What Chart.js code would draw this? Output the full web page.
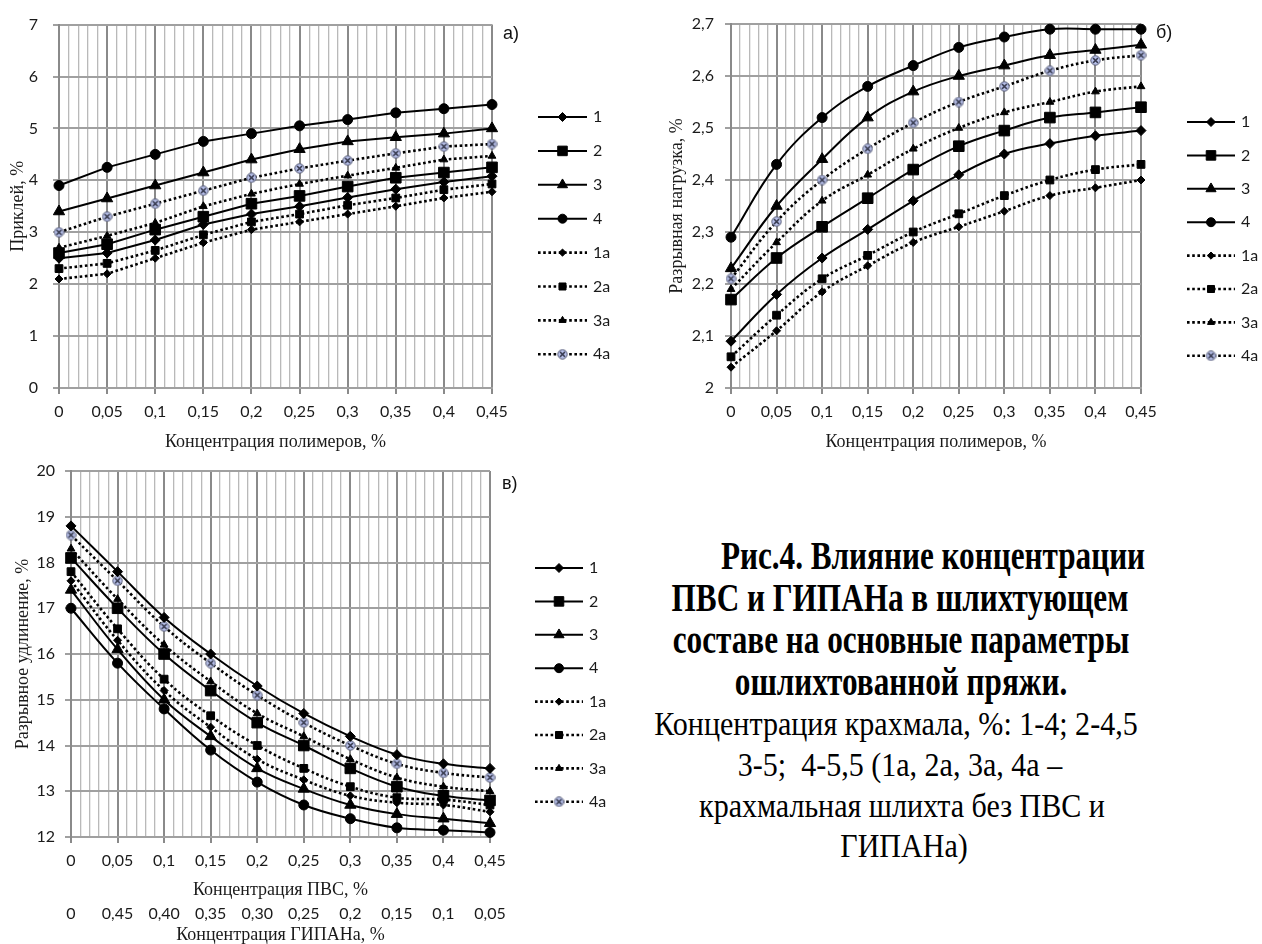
<!DOCTYPE html>
<html lang="ru">
<head>
<meta charset="utf-8">
<title>Рис.4</title>
<script src="https://cdn.jsdelivr.net/npm/chart.js@4.4.1/dist/chart.umd.min.js"></script>
<style>
  html, body { margin: 0; padding: 0; background: #fff; }
  body { position: relative; width: 1262px; height: 944px; overflow: hidden; }
  .box { position: absolute; }
  .panel { position: absolute; font: 18px "Liberation Sans", Arial, sans-serif; color: #111; line-height: 22px; }
  .cap { position: absolute; width: 600px; text-align: center; white-space: nowrap;
         font-family: "Liberation Serif", "Times New Roman", serif; color: #000;
         line-height: 42px; transform-origin: center; }
  .cap.b { font-weight: bold; font-size: 40px; transform: scaleX(0.78); }
  .cap.r { font-size: 33px; transform: scaleX(0.91); }
</style>
</head>
<body>
<div class="box" style="left:0;top:0;width:620px;height:460px"><canvas id="chartA"></canvas></div>
<div class="box" style="left:650px;top:0;width:612px;height:460px"><canvas id="chartB"></canvas></div>
<div class="box" style="left:0;top:450px;width:620px;height:494px"><canvas id="chartC"></canvas></div>

<div class="panel" style="left:503px;top:22px">а)</div>
<div class="panel" style="left:1156px;top:21px">б)</div>
<div class="panel" style="left:502px;top:472px">в)</div>

<div class="cap b" style="left:633px;top:535px">Рис.4. Влияние концентрации</div>
<div class="cap b" style="left:600px;top:577px">ПВС и ГИПАНа в шлихтующем</div>
<div class="cap b" style="left:601px;top:619px">составе на основные параметры</div>
<div class="cap b" style="left:601px;top:661px">ошлихтованной пряжи.</div>
<div class="cap r" style="left:596px;top:703px">Концентрация крахмала, %: 1-4; 2-4,5</div>
<div class="cap r" style="left:600px;top:744px">3-5;&nbsp; 4-5,5 (1а, 2а, 3а, 4а –</div>
<div class="cap r" style="left:602px;top:785px">крахмальная шлихта без ПВС и</div>
<div class="cap r" style="left:604px;top:825px">ГИПАНа)</div>

<script>
// concentration of polymers, % (x values shared by all panels)
const concentration = [0, 0.05, 0.1, 0.15, 0.2, 0.25, 0.3, 0.35, 0.4, 0.45];
const concentrationLabels = ['0', '0,05', '0,1', '0,15', '0,2', '0,25', '0,3', '0,35', '0,4', '0,45'];
const gipanLabels = ['0', '0,45', '0,40', '0,35', '0,30', '0,25', '0,2', '0,15', '0,1', '0,05'];
const seriesNames = ['1', '2', '3', '4', '1а', '2а', '3а', '4а'];

// а) Приклей, %
const sizeAdd1 = [2.5, 2.6, 2.85, 3.15, 3.35, 3.5, 3.67, 3.83, 3.97, 4.08];
const sizeAdd2 = [2.6, 2.77, 3.05, 3.3, 3.55, 3.7, 3.88, 4.05, 4.15, 4.25];
const sizeAdd3 = [3.4, 3.65, 3.9, 4.15, 4.4, 4.6, 4.75, 4.83, 4.9, 5.0];
const sizeAdd4 = [3.9, 4.25, 4.5, 4.75, 4.9, 5.05, 5.17, 5.3, 5.38, 5.46];
const sizeAdd1a = [2.1, 2.2, 2.5, 2.8, 3.05, 3.2, 3.35, 3.5, 3.66, 3.78];
const sizeAdd2a = [2.3, 2.4, 2.65, 2.95, 3.2, 3.35, 3.52, 3.66, 3.82, 3.93];
const sizeAdd3a = [2.7, 2.93, 3.18, 3.5, 3.74, 3.93, 4.09, 4.24, 4.4, 4.47];
const sizeAdd4a = [3.0, 3.3, 3.55, 3.8, 4.05, 4.23, 4.38, 4.52, 4.65, 4.7];

// б) Разрывная нагрузка
const load1 = [2.09, 2.18, 2.25, 2.305, 2.36, 2.41, 2.45, 2.47, 2.485, 2.495];
const load2 = [2.17, 2.25, 2.31, 2.365, 2.42, 2.465, 2.495, 2.52, 2.53, 2.54];
const load3 = [2.23, 2.35, 2.44, 2.52, 2.57, 2.6, 2.62, 2.64, 2.65, 2.66];
const load4 = [2.29, 2.43, 2.52, 2.58, 2.62, 2.655, 2.675, 2.69, 2.69, 2.69];
const load1a = [2.04, 2.11, 2.185, 2.235, 2.28, 2.31, 2.34, 2.37, 2.385, 2.4];
const load2a = [2.06, 2.14, 2.21, 2.255, 2.3, 2.335, 2.37, 2.4, 2.42, 2.43];
const load3a = [2.19, 2.28, 2.36, 2.41, 2.46, 2.5, 2.53, 2.55, 2.57, 2.58];
const load4a = [2.21, 2.32, 2.4, 2.46, 2.51, 2.55, 2.58, 2.61, 2.63, 2.64];

// в) Разрывное удлинение
const elong1 = [18.8, 17.8, 16.8, 16.0, 15.3, 14.7, 14.2, 13.8, 13.6, 13.5];
const elong2 = [18.1, 17.0, 16.0, 15.2, 14.5, 14.0, 13.5, 13.1, 12.9, 12.8];
const elong3 = [17.4, 16.1, 15.0, 14.2, 13.5, 13.05, 12.7, 12.5, 12.4, 12.3];
const elong4 = [17.0, 15.8, 14.8, 13.9, 13.2, 12.7, 12.4, 12.2, 12.15, 12.1];
const elong1a = [17.6, 16.3, 15.2, 14.4, 13.7, 13.25, 12.9, 12.75, 12.7, 12.55];
const elong2a = [17.8, 16.55, 15.45, 14.65, 14.0, 13.5, 13.1, 12.86, 12.82, 12.7];
const elong3a = [18.3, 17.2, 16.2, 15.4, 14.7, 14.2, 13.7, 13.3, 13.1, 13.0];
const elong4a = [18.6, 17.6, 16.6, 15.8, 15.1, 14.5, 14.0, 13.6, 13.4, 13.3];

const tickFont = { family: 'Lato', size: 16 };
const titleFont = { family: '"Liberation Serif", "Times New Roman", serif', size: 18 };
const textColor = '#1a1a1a';
const majorGrid = '#8a8a8a';
const minorGrid = '#b9b9b9';
const rowGrid = '#a0a0a0';

// marker for the 4а series: pale blue disc with a dark cross
function crossMarker() {
    var c = document.createElement('canvas');
    c.width = 11; c.height = 11;
    var g = c.getContext('2d');
    g.fillStyle = '#b7c0ea';
    g.strokeStyle = '#5a5f78';
    g.lineWidth = 1;
    g.beginPath(); g.arc(5.5, 5.5, 4.7, 0, Math.PI * 2); g.fill(); g.stroke();
    g.strokeStyle = '#33364a';
    g.lineWidth = 1.6;
    g.beginPath();
    g.moveTo(3, 3); g.lineTo(8, 8);
    g.moveTo(8, 3); g.lineTo(3, 8);
    g.stroke();
    return c;
}

const pointStyles = ['rectRot', 'rect', 'triangle', 'circle', 'rectRot', 'rect', 'triangle', crossMarker()];
const pointRadii = [5, 7.5, 6.5, 5, 4, 5.5, 4.5, 5];

function buildDatasets(series, tension) {
    return series.map(function (values, i) {
        var solid = i < 4;
        return {
            label: seriesNames[i],
            data: concentration.map(function (x, k) { return { x: x, y: values[k] }; }),
            borderColor: '#000',
            backgroundColor: '#000',
            borderWidth: solid ? 2 : 2.6,
            borderDash: solid ? [] : [2.6, 2.6],
            pointStyle: pointStyles[i],
            pointRadius: pointRadii[i],
            pointBorderWidth: 1,
            pointBackgroundColor: '#000',
            pointBorderColor: '#000',
            tension: tension,
            fill: false,
            clip: false
        };
    });
}

function numberLabel(v) {
    if (Math.abs(v - Math.round(v)) < 1e-9) return String(Math.round(v));
    return (Math.round(v * 10) / 10).toFixed(1).replace('.', ',');
}

function isMajor(ctx) { return ctx.index % 5 === 0; }

function xAxis(title, height) {
    return {
        type: 'linear', min: 0, max: 0.45,
        ticks: {
            stepSize: 0.01, autoSkip: false, maxRotation: 0, minRotation: 0,
            padding: 8, font: tickFont, color: textColor,
            callback: function (v, i) { return i % 5 === 0 ? concentrationLabels[i / 5] : ''; }
        },
        grid: {
            color: function (ctx) { return isMajor(ctx) ? majorGrid : minorGrid; },
            lineWidth: function (ctx) { return isMajor(ctx) ? 2 : 1.3; },
            tickLength: 6,
            tickColor: function (ctx) { return isMajor(ctx) ? majorGrid : 'rgba(0,0,0,0)'; }
        },
        border: { color: rowGrid, width: 2 },
        title: { display: true, text: title, font: titleFont, color: textColor, padding: { top: 0, bottom: 3 } },
        afterFit: function (scale) { scale.height = height; }
    };
}

function yAxis(min, max, step, title, width, tickPad, titlePad) {
    return {
        type: 'linear', min: min, max: max,
        ticks: { stepSize: step, padding: tickPad, font: tickFont, color: textColor, callback: numberLabel },
        grid: { color: rowGrid, lineWidth: 2, tickLength: 6, tickColor: rowGrid },
        border: { color: majorGrid, width: 2 },
        title: { display: true, text: title, font: titleFont, color: textColor, padding: { top: titlePad, bottom: 0 } },
        afterFit: function (scale) { scale.width = width; }
    };
}

// key drawn to the right of the plot: line sample, marker, series name
function seriesKey(x0, x1, y0, dy) {
    return {
        id: 'seriesKey',
        afterDraw: function (chart) {
            var ctx = chart.ctx;
            chart.data.datasets.forEach(function (ds, i) {
                var y = y0 + i * dy;
                ctx.save();
                ctx.strokeStyle = ds.borderColor;
                ctx.lineWidth = ds.borderWidth;
                ctx.setLineDash(ds.borderDash);
                ctx.beginPath(); ctx.moveTo(x0, y); ctx.lineTo(x1, y); ctx.stroke();
                ctx.setLineDash([]);
                ctx.fillStyle = ds.pointBackgroundColor;
                ctx.strokeStyle = ds.pointBorderColor;
                ctx.lineWidth = ds.pointBorderWidth;
                Chart.helpers.drawPoint(ctx, {
                    pointStyle: ds.pointStyle, radius: ds.pointRadius * 0.9,
                    borderWidth: ds.pointBorderWidth, rotation: 0
                }, (x0 + x1) / 2, y);
                ctx.fillStyle = textColor;
                ctx.font = '16px Lato';
                ctx.textAlign = 'left';
                ctx.textBaseline = 'middle';
                ctx.fillText(ds.label, x1 + 6, y);
                ctx.restore();
            });
        }
    };
}

function commonOptions(padding, scales) {
    return {
        responsive: true,
        maintainAspectRatio: false,
        animation: false,
        layout: { padding: padding },
        plugins: { legend: { display: false }, tooltip: { enabled: false } },
        scales: scales
    };
}

// а) Приклей
new Chart(document.getElementById('chartA'), {
    type: 'line',
    data: { datasets: buildDatasets([sizeAdd1, sizeAdd2, sizeAdd3, sizeAdd4, sizeAdd1a, sizeAdd2a, sizeAdd3a, sizeAdd4a], 0) },
    options: commonOptions({ top: 18, right: 128, bottom: 4, left: 0 }, {
        x: xAxis('Концентрация полимеров, %', 68),
        y: yAxis(0, 7, 1, 'Приклей, %', 59, 15, 7)
    }),
    plugins: [seriesKey(538, 587, 117, 33.9)]
});

// б) Разрывная нагрузка
new Chart(document.getElementById('chartB'), {
    type: 'line',
    data: { datasets: buildDatasets([load1, load2, load3, load4, load1a, load2a, load3a, load4a], 0.4) },
    options: commonOptions({ top: 24, right: 121, bottom: 4, left: 0 }, {
        x: xAxis('Концентрация полимеров, %', 68),
        y: yAxis(2, 2.7, 0.1, 'Разрывная нагрузка, %', 81, 11, 16)
    }),
    plugins: [seriesKey(537, 585, 122, 33.4)]
});

// в) Разрывное удлинение, with the second (ГИПАН) scale below
var scalesC = {
    x: xAxis('Концентрация ПВС, %', 67),
    x2: {
        type: 'linear', position: 'bottom', weight: 1, min: 0, max: 0.45,
        ticks: {
            stepSize: 0.05, autoSkip: false, maxRotation: 0, minRotation: 0,
            padding: 0, font: tickFont, color: textColor,
            callback: function (v, i) { return gipanLabels[i]; }
        },
        grid: { display: false, drawTicks: false },
        border: { display: false },
        title: {
            display: true, text: 'Концентрация ГИПАНа, %',
            font: Object.assign({}, titleFont, { lineHeight: 1 }), color: textColor,
            padding: { top: 0, bottom: 0 }
        },
        afterFit: function (scale) { scale.height = 40; }
    },
    y: yAxis(12, 20, 1, 'Разрывное удлинение, %', 71, 10, 12)
};

new Chart(document.getElementById('chartC'), {
    type: 'line',
    data: { datasets: buildDatasets([elong1, elong2, elong3, elong4, elong1a, elong2a, elong3a, elong4a], 0.4) },
    options: commonOptions({ top: 21, right: 130, bottom: 0, left: 0 }, scalesC),
    plugins: [seriesKey(535, 583, 118, 33.4)]
});
</script>
</body>
</html>
